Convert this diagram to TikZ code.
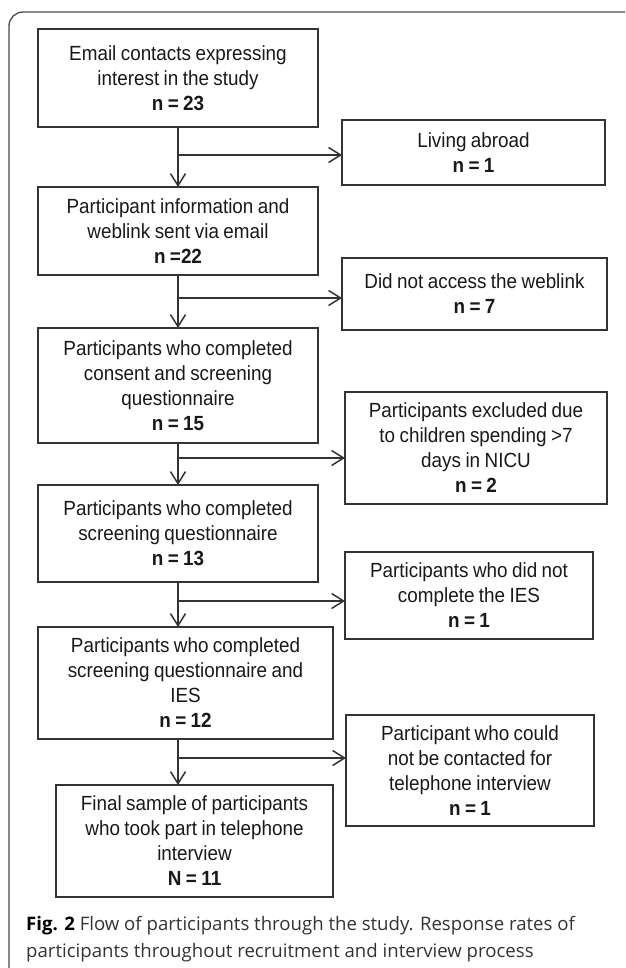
\documentclass[tikz,border=0pt]{standalone}
\usepackage{fontspec}
\setmainfont{Liberation Sans}[FakeStretch=0.92,WordSpace=0.85]
\newfontfamily\capfont{Open Sans}
\usetikzlibrary{arrows.meta}
\definecolor{ln}{HTML}{333333}
\definecolor{fr}{HTML}{4A4A4A}
\begin{document}
\begin{tikzpicture}[x=1pt,y=-1pt,
  box/.style={draw=ln,line width=1.5pt,inner sep=0pt,outer sep=0pt,align=center,
    font=\fontsize{20.5}{25}\selectfont,text=black!90},
  flow/.style={draw=ln,line width=1.5pt,-{Straight Barb[length=12pt,width=15pt]}},
  captext/.style={anchor=base west,inner sep=0pt,font=\capfont\fontsize{18.6}{27}\selectfont,text=black!80}
]
\useasboundingbox (0,0) rectangle (625,968);
\begin{scope}
  \clip (0,0) rectangle (625,968);
  \draw[draw=fr,line width=1.3pt,rounded corners=14pt] (9,12) rectangle (670,990);
\end{scope}

% left column
\node[box,minimum width=280pt,minimum height=98pt] (b1) at (178,78)
  {Email contacts expressing\\interest in the study\\\textbf{n = 23}};
\node[box,minimum width=280pt,minimum height=88pt] (b2) at (178,231)
  {Participant information and\\weblink sent via email\\\textbf{n =22}};
\node[box,minimum width=280pt,minimum height=115pt] (b3) at (178,385.5)
  {Participants who completed\\consent and screening\\questionnaire\\\textbf{n = 15}};
\node[box,minimum width=280pt,minimum height=97pt] (b4) at (178,533.5)
  {Participants who completed\\screening questionnaire\\\textbf{n = 13}};
\node[box,minimum width=295pt,minimum height=112pt] (b5) at (185.5,683)
  {Participants who completed\\screening questionnaire and\\IES\\\textbf{n = 12}};
\node[box,minimum width=277pt,minimum height=112pt] (b6) at (194.5,841)
  {Final sample of participants\\who took part in telephone\\interview\\\textbf{N = 11}};

% right column
\node[box,minimum width=263pt,minimum height=65pt] (r1) at (473.5,152.5)
  {Living abroad\\\textbf{n = 1}};
\node[box,minimum width=265pt,minimum height=72pt] (r2) at (474.5,294)
  {Did not access the weblink\\\textbf{n = 7}};
\node[box,minimum width=262pt,minimum height=112pt] (r3) at (476,448)
  {Participants excluded due\\to children spending >7\\days in NICU\\\textbf{n = 2}};
\node[box,minimum width=248pt,minimum height=87pt] (r4) at (469,595.5)
  {Participants who did not\\complete the IES\\\textbf{n = 1}};
\node[box,minimum width=248pt,minimum height=111pt] (r5) at (470,770.5)
  {Participant who could\\not be contacted for\\telephone interview\\\textbf{n = 1}};

% connectors
\coordinate (vx) at (178,0);
\draw[flow] (b1.south -| vx) -- (b2.north -| vx);
\draw[flow] (b2.south -| vx) -- (b3.north -| vx);
\draw[flow] (b3.south -| vx) -- (b4.north -| vx);
\draw[flow] (b4.south -| vx) -- (b5.north -| vx);
\draw[flow] (b5.south -| vx) -- (b6.north -| vx);

\coordinate (a1) at (178,155);
\coordinate (a2) at (178,298);
\coordinate (a3) at (178,458);
\coordinate (a4) at (178,601);
\coordinate (a5) at (178,758);
\draw[flow] (a1) -- (r1.west |- a1);
\draw[flow] (a2) -- (r2.west |- a2);
\draw[flow] (a3) -- (r3.west |- a3);
\draw[flow] (a4) -- (r4.west |- a4);
\draw[flow] (a5) -- (r5.west |- a5);

% caption
\node[captext] (c1) at (26,930) {\textbf{\color{black}Fig. 2} Flow of participants through the study. Response rates of};
\node[captext] (c2) at (26,957) {participants throughout recruitment and interview process};
\end{tikzpicture}
\end{document}
